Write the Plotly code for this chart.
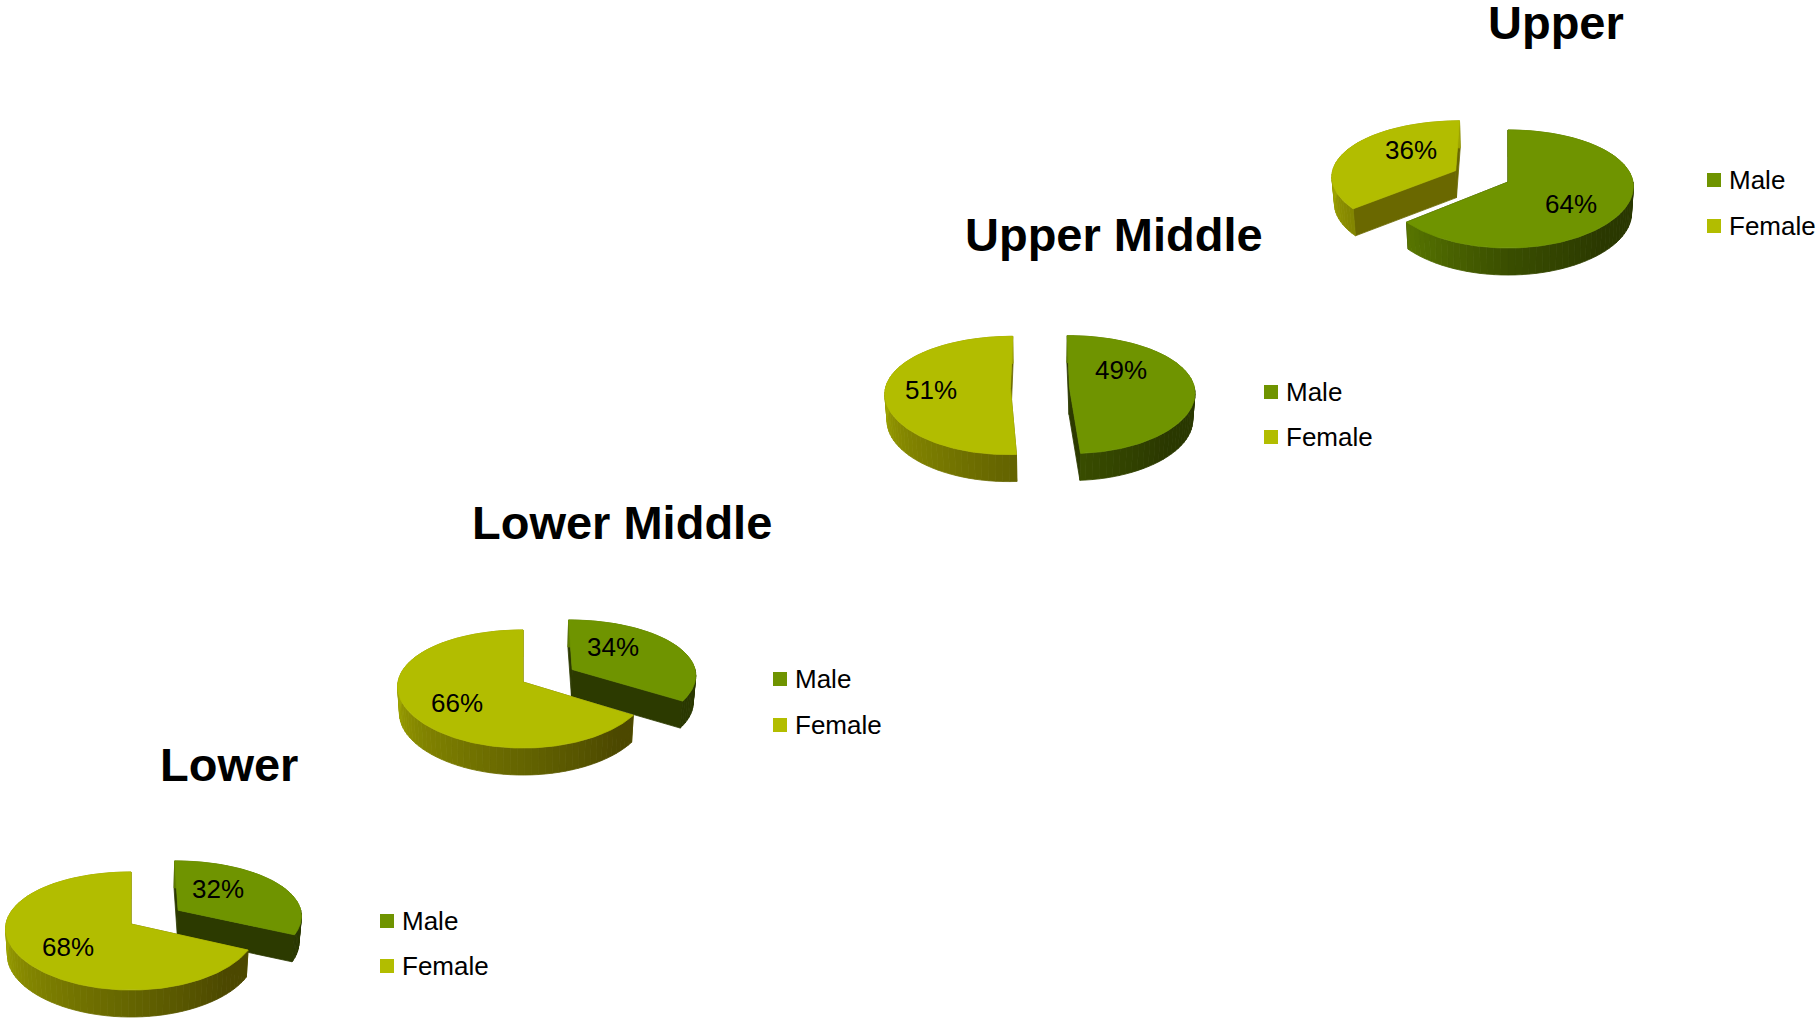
import numpy as np
import plotly.graph_objects as go

# Survey shares by income group
groups = ["Lower", "Lower Middle", "Upper Middle", "Upper"]
male_share = [32, 34, 49, 64]
female_share = [68, 66, 51, 36]
series_names = ["Male", "Female"]

# Pull-out distance of each slice, as a fraction of the radius
male_pull = [0.455, 0.457, 0.236, 0.0]
female_pull = [0.0, 0.0, 0.236, 0.47]

# Page layout, in pixels
PAGE_W, PAGE_H = 1817, 1020
pie_origin = [(131, 924), (523, 682), (1040, 388), (1508, 182)]
title_pos = [(229, 764), (622, 522), (1114, 234), (1556, 22)]
male_label_pos = [(218, 889), (613, 647), (1121, 370), (1571, 204)]
female_label_pos = [(68, 947), (457, 703), (931, 390), (1411, 150)]
legend_pos = [(387, 921, 966), (780, 679, 725), (1271, 392, 437), (1714, 180, 226)]

RADIUS_X, RADIUS_Y, DEPTH = 125.0, 58.2, 27.0
TILT_X, TILT_Y = 0.08, 0.1186
BASE_SHRINK = 0.985

MALE_TOP, FEMALE_TOP = "#6f9400", "#b2bd00"
MALE_FACE, FEMALE_FACE = "#2c3a00", "#6a6800"
WALL_ANGLES = [90, 135, 180, 230, 270]
MALE_WALL = [(40, 54, 0), (42, 56, 0), (58, 78, 0), (88, 118, 0), (95, 125, 0)]
FEMALE_WALL = [(76, 72, 0), (76, 72, 0), (100, 100, 0), (130, 132, 0), (158, 164, 0)]


def project(origin, u, v):
    """Map a point on the unit pie plane to the page with a simple perspective."""
    ox, oy = origin
    return (ox + RADIUS_X * u / (1 + TILT_X * v), oy - RADIUS_Y * v / (1 + TILT_Y * v))


def rim(origin, pull_u, pull_v, angles):
    rad = np.radians(angles)
    return project(origin, pull_u + np.sin(rad), pull_v + np.cos(rad))


def lower(origin, xs, ys):
    """Shift top-face points down to the base of the pie."""
    return origin[0] + (np.asarray(xs) - origin[0]) * BASE_SHRINK, np.asarray(ys) + DEPTH


def polygon(fig, xs, ys, color, name):
    fig.add_trace(go.Scatter(
        x=list(xs), y=list(ys), mode="lines", fill="toself", fillcolor=color,
        line=dict(color=color, width=0.8), hoverinfo="skip", showlegend=False, name=name,
    ))


def wall_color(angle, stops):
    a = ((angle - 90) % 360) + 90
    a = a if a <= 270 else 270
    return "rgb({:.0f},{:.0f},{:.0f})".format(
        *[np.interp(a, WALL_ANGLES, [s[i] for s in stops]) for i in range(3)]
    )


def draw_slice(fig, origin, start_pct, share, pull, top, face, wall, name):
    start = start_pct * 3.6
    end = (start_pct + share) * 3.6
    mid = np.radians((start + end) / 2)
    pu, pv = pull * np.sin(mid), pull * np.cos(mid)
    ax, ay = project(origin, np.array([pu]), np.array([pv]))
    angles = np.arange(start, end + 0.5, 1.0)
    angles[-1] = end
    rx, ry = rim(origin, pu, pv, angles)

    # Cut faces along both straight edges
    bax, bay = lower(origin, ax, ay)
    brx, bry = lower(origin, rx, ry)
    for i in (0, -1):
        polygon(fig, [ax[0], rx[i], brx[i], bax[0], ax[0]],
                [ay[0], ry[i], bry[i], bay[0], ay[0]], face, name + " cut face")

    # Outer wall, shaded strip by strip
    for a0 in np.arange(start, end, 3.0):
        a1 = min(a0 + 3.0, end)
        xs, ys = rim(origin, pu, pv, np.array([a0, a1]))
        bx, by = lower(origin, xs, ys)
        polygon(fig, [xs[0], xs[1], bx[1], bx[0], xs[0]], [ys[0], ys[1], by[1], by[0], ys[0]],
                wall_color((a0 + a1) / 2, wall), name + " wall")

    # Top surface
    polygon(fig, np.concatenate([ax, rx, ax]), np.concatenate([ay, ry, ay]), top, name)


fig = go.Figure()
annotations = []


def add_text(x, y, text, size, bold=False, anchor="center"):
    annotations.append(dict(
        x=x, y=y, xref="x", yref="y", text="<b>%s</b>" % text if bold else text,
        showarrow=False, xanchor=anchor, yanchor="middle",
        font=dict(family="Liberation Sans", size=size, color="#000000"),
    ))


for i, group in enumerate(groups):
    origin = pie_origin[i]
    draw_slice(fig, origin, 0, male_share[i], male_pull[i],
               MALE_TOP, MALE_FACE, MALE_WALL, group + " Male")
    draw_slice(fig, origin, male_share[i], female_share[i], female_pull[i],
               FEMALE_TOP, FEMALE_FACE, FEMALE_WALL, group + " Female")

    add_text(*title_pos[i], group, 47, bold=True)
    add_text(*male_label_pos[i], "%d%%" % male_share[i], 26)
    add_text(*female_label_pos[i], "%d%%" % female_share[i], 26)

    # Legend swatches and names
    lx, ly_male, ly_female = legend_pos[i]
    fig.add_trace(go.Scatter(
        x=[lx, lx], y=[ly_male, ly_female], mode="markers", hoverinfo="skip", showlegend=False,
        marker=dict(symbol="square", size=14, color=[MALE_TOP, FEMALE_TOP]),
    ))
    add_text(lx + 13, ly_male, series_names[0], 26, anchor="left")
    add_text(lx + 13, ly_female, series_names[1], 26, anchor="left")

fig.update_layout(
    width=PAGE_W, height=PAGE_H, margin=dict(l=0, r=0, t=0, b=0),
    paper_bgcolor="#ffffff", plot_bgcolor="#ffffff", showlegend=False,
    annotations=annotations,
    xaxis=dict(range=[0, PAGE_W], visible=False, fixedrange=True),
    yaxis=dict(range=[PAGE_H, 0], visible=False, fixedrange=True),
)
fig.write_html("out.html", config=dict(displayModeBar=False))
